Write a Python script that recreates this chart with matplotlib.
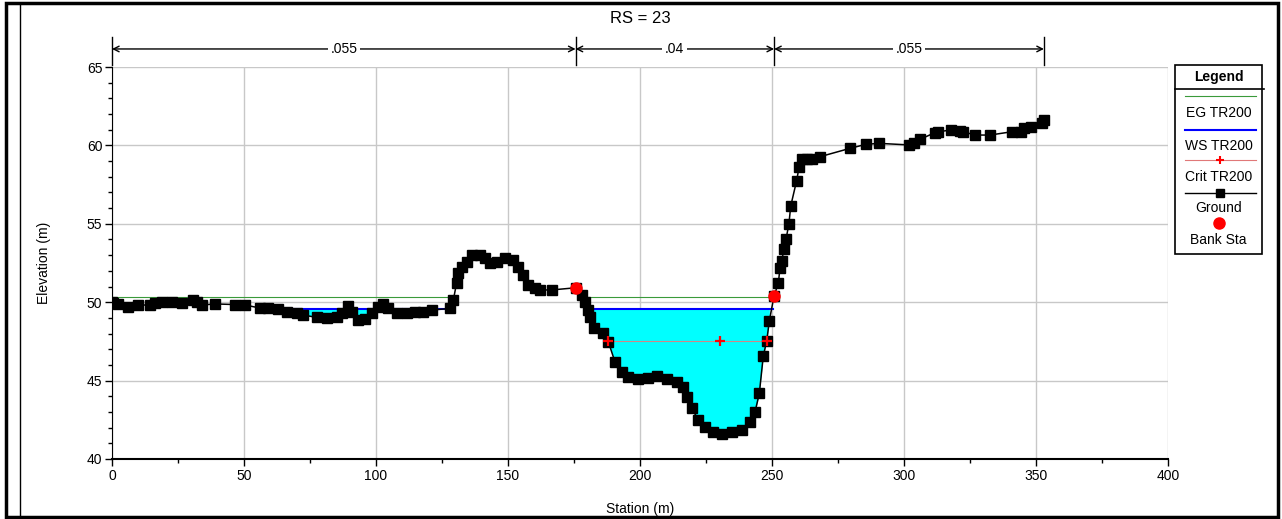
import numpy as np
import matplotlib
matplotlib.use("Agg")
import matplotlib.pyplot as plt
from matplotlib.lines import Line2D
from matplotlib.patches import Rectangle
from matplotlib.ticker import MultipleLocator

plt.rcParams['font.family'] = ['Liberation Sans Narrow', 'Liberation Sans', 'DejaVu Sans']

# ground profile (station, elevation)
sta = [0.0, 0.5, 2.4, 6.2, 10.0, 14.4, 16.3, 18.8, 22.6, 26.4, 30.8, 32.1, 34.0, 39.0,
       46.6, 50.4, 56.0, 59.2, 63.0, 66.2, 70.0, 72.5, 77.5, 81.3, 85.1, 87.0, 89.5,
       90.8, 93.3, 95.8, 98.4, 100.9, 102.8, 104.7, 107.8, 111.6, 114.8, 117.9, 121.1,
       128.0, 129.3, 130.5, 131.2, 132.5, 134.4, 136.3, 139.4, 141.3, 143.2, 145.7,
       148.9, 152.0, 153.9, 155.8, 157.7, 160.2, 162.1, 166.5, 175.6, 177.9, 179.2,
       180.4, 181.1, 182.4, 186.1, 188.0, 190.5, 193.0, 195.5, 199.4, 203.2, 206.3,
       210.1, 213.9, 216.4, 217.7, 219.6, 222.1, 224.6, 227.8, 230.9, 234.7, 238.5,
       241.7, 243.6, 245.2, 246.7, 248.0, 249.0, 250.8, 252.4, 253.0, 253.7, 254.5,
       255.3, 256.4, 257.1, 259.3, 260.3, 261.5, 263.1, 265.0, 268.2, 279.5, 285.6,
       290.6, 301.9, 303.8, 306.1, 311.7, 313.0, 317.7, 321.2, 322.5, 326.9, 332.6,
       340.8, 344.2, 345.6, 348.0, 352.2, 353.0]
elev = [50.0, 49.93, 49.89, 49.72, 49.82, 49.82, 49.93, 50.03, 50.03, 49.97, 50.15,
        50.03, 49.82, 49.89, 49.85, 49.82, 49.63, 49.65, 49.57, 49.38, 49.29, 49.18,
        49.03, 48.97, 49.03, 49.29, 49.76, 49.40, 48.87, 48.91, 49.29, 49.71, 49.89,
        49.61, 49.29, 49.29, 49.36, 49.40, 49.50, 49.60, 50.14, 51.20, 51.84, 52.27,
        52.58, 53.0, 53.0, 52.80, 52.48, 52.58, 52.80, 52.69, 52.27, 51.74, 51.10,
        50.89, 50.78, 50.78, 50.92, 50.46, 50.03, 49.50, 49.08, 48.33, 48.01, 47.48,
        46.20, 45.57, 45.25, 45.10, 45.19, 45.31, 45.10, 44.93, 44.61, 43.97, 43.23,
        42.49, 42.06, 41.74, 41.60, 41.74, 41.85, 42.38, 43.02, 44.19, 46.57, 47.53,
        48.82, 50.42, 51.20, 52.16, 52.65, 53.37, 54.01, 54.99, 56.14, 57.73, 58.65,
        59.13, 59.13, 59.13, 59.28, 59.81, 60.07, 60.13, 60.03, 60.17, 60.39, 60.81,
        60.87, 60.98, 60.94, 60.87, 60.66, 60.66, 60.87, 60.87, 61.08, 61.18, 61.44,
        61.65]

ws_elev = 49.57
eg_elev = 50.31
ws_reaches = [(61.0, 127.0), (180.8, 250.2)]
eg_reaches = [(0.0, 129.0), (178.0, 250.5)]
crit_sta = [188.0, 230.3, 248.0]
crit_elev = [47.53, 47.53, 47.53]
bank_sta = [175.6, 250.8]
bank_elev = [50.92, 50.42]
n_breaks = [0.0, 175.6, 250.8, 353.0]
n_values = ['.055', '.04', '.055']

W, H = 1282, 519
fig = plt.figure(figsize=(W / 100, H / 100), dpi=100)
ax = fig.add_axes([112 / W, 1 - 459 / H, 1056 / W, 392 / H])

x = np.array(sta)
y = np.array(elev)

# water
for a, b in ws_reaches:
    m = (x >= a) & (x <= b)
    ax.fill_between(x[m], y[m], ws_elev, where=y[m] < ws_elev, interpolate=True,
                    color='#00ffff', lw=0, zorder=2)
    ax.plot([a, b], [ws_elev, ws_elev], color='#0000ff', lw=1.5, zorder=3)
for a, b in eg_reaches:
    ax.plot([a, b], [eg_elev, eg_elev], color='#3a9a3a', lw=0.8, zorder=3)
ax.plot(crit_sta, crit_elev, color='#d08888', lw=0.8, zorder=3)
ax.plot(x, y, color='black', lw=1.1, marker='s', ms=6.5, zorder=4)
ax.plot(crit_sta, crit_elev, lw=0, marker='+', ms=7, mew=1.6, mec='#ff0000', zorder=5)
ax.plot(bank_sta, bank_elev, 'o', color='#ff0000', ms=8, zorder=6, lw=0)

ax.set_xlim(0, 400)
ax.set_ylim(40, 65)
ax.xaxis.set_major_locator(MultipleLocator(50))
ax.xaxis.set_minor_locator(MultipleLocator(25))
ax.yaxis.set_major_locator(MultipleLocator(5))
ax.yaxis.set_minor_locator(MultipleLocator(1))
ax.tick_params(which='major', direction='out', length=5, width=1, labelsize=10, pad=2)
ax.tick_params(which='minor', direction='out', length=3, width=1)
ax.grid(True, which='major', color='#c8c8c8', lw=1)
ax.set_axisbelow(True)
for s in ['top', 'right']:
    ax.spines[s].set_visible(False)
ax.spines['bottom'].set_linewidth(1.5)
ax.set_xlabel('Station (m)', fontsize=10, labelpad=14)
ax.set_ylabel('Elevation (m)', fontsize=10, labelpad=26)
ax.set_title('RS = 23', fontsize=12, pad=32)

# roughness dimension lines above the plot
ya = 66.15
for xb in n_breaks:
    ax.plot([xb, xb], [65.1, 66.9], color='black', lw=1, clip_on=False)
for i, lab in enumerate(n_values):
    a, b = n_breaks[i], n_breaks[i + 1]
    ax.annotate('', xy=(a, ya), xytext=((a + b) / 2, ya),
                arrowprops=dict(arrowstyle='->', lw=1, color='black', shrinkA=0, shrinkB=0),
                annotation_clip=False)
    ax.annotate('', xy=(b, ya), xytext=((a + b) / 2, ya),
                arrowprops=dict(arrowstyle='->', lw=1, color='black', shrinkA=0, shrinkB=0),
                annotation_clip=False)
    ax.text((a + b) / 2, ya, lab, ha='center', va='center', fontsize=10,
            bbox=dict(facecolor='white', edgecolor='none', pad=2), clip_on=False, zorder=6)

# legend box drawn in figure pixels
def fx(px):
    return px / W

def fy(py):
    return 1 - py / H

fig.add_artist(Rectangle((fx(1175), fy(254)), fx(1262) - fx(1175), fy(65) - fy(254),
                         transform=fig.transFigure, fill=False, ec='black', lw=1.2))
fig.add_artist(Line2D([fx(1175), fx(1264)], [fy(89), fy(89)], color='black', lw=1.2))
fig.text(fx(1218.5), fy(77), 'Legend', ha='center', va='center', fontsize=10, fontweight='bold')
lx = [fx(1185), fx(1256)]
fig.add_artist(Line2D(lx, [fy(96)] * 2, color='#3a9a3a', lw=0.8))
fig.text(fx(1218.5), fy(113), 'EG TR200', ha='center', va='center', fontsize=10)
fig.add_artist(Line2D(lx, [fy(130)] * 2, color='#0000ff', lw=1.5))
fig.text(fx(1218.5), fy(146), 'WS TR200', ha='center', va='center', fontsize=10)
fig.add_artist(Line2D(lx, [fy(160)] * 2, color='#e07878', lw=0.8))
fig.add_artist(Line2D([fx(1220)], [fy(160)], marker='+', ms=6, mew=1.5, color='#ff0000'))
fig.text(fx(1218.5), fy(177), 'Crit TR200', ha='center', va='center', fontsize=10)
fig.add_artist(Line2D(lx, [fy(193)] * 2, color='black', lw=1))
fig.add_artist(Line2D([fx(1220)], [fy(193)], marker='s', ms=6, color='black'))
fig.text(fx(1218.5), fy(208), 'Ground', ha='center', va='center', fontsize=10)
fig.add_artist(Line2D([fx(1219)], [fy(223)], marker='o', ms=8, color='#ff0000'))
fig.text(fx(1218.5), fy(240), 'Bank Sta', ha='center', va='center', fontsize=10)

# outer frame
fig.add_artist(Rectangle((fx(6), fy(517)), fx(1278) - fx(6), fy(3) - fy(517),
                         transform=fig.transFigure, fill=False, ec='black', lw=2.5))
fig.add_artist(Line2D([fx(20), fx(20)], [fy(517), fy(3)], color='black', lw=1))

fig.savefig('out.png', dpi=100)
